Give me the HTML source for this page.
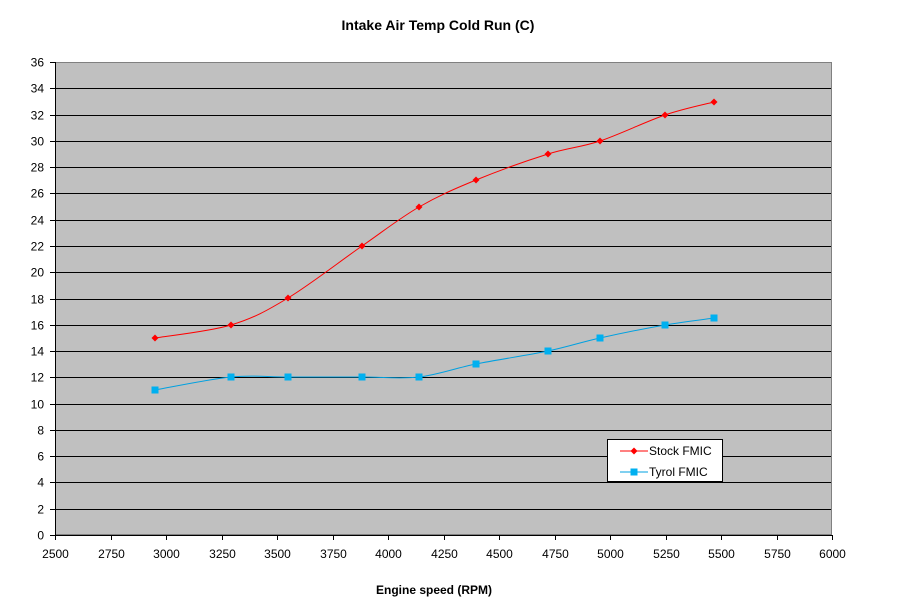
<!DOCTYPE html>
<html><head><meta charset="utf-8"><style>
body{margin:0;background:#fff;}
svg{display:block;font-family:"Liberation Sans",Arial,sans-serif;}
</style></head><body>
<svg id="s" width="903" height="614" xmlns="http://www.w3.org/2000/svg">
<rect x="55" y="62" width="777" height="473" fill="#c0c0c0"/>
<g id="grid" stroke="#000" stroke-width="1"></g>
<rect x="55.5" y="62.5" width="776" height="472" fill="none" stroke="#808080"/>
<line x1="55.5" y1="62" x2="55.5" y2="535" stroke="#000"/>
<line x1="55" y1="535.5" x2="832" y2="535.5" stroke="#000"/>
<g id="lab" font-size="12" fill="#000"></g>
<text x="438" y="30" font-size="14" font-weight="bold" text-anchor="middle">Intake Air  Temp Cold Run (C)</text>
<text x="434" y="594" font-size="12" font-weight="bold" text-anchor="middle">Engine speed  (RPM)</text>
<path id="p1" fill="none" stroke="#ff0000" stroke-width="1"/>
<path id="p2" fill="none" stroke="#00a0e0" stroke-width="1"/>
<g id="m"></g>
<rect x="607.5" y="439.5" width="115" height="42" fill="#fff" stroke="#000"/>
<line x1="620" y1="451" x2="648" y2="451" stroke="#ff0000"/>
<path d="M634 447.5L637.5 451L634 454.5L630.5 451Z" fill="#ff0000"/>
<text x="649" y="455" font-size="12">Stock FMIC</text>
<line x1="620" y1="472" x2="648" y2="472" stroke="#00a0e0"/>
<rect x="630.5" y="468.5" width="7" height="7" fill="#00b0f0"/>
<text x="649" y="476" font-size="12">Tyrol FMIC</text>
</svg>
<script>
var g=document.getElementById('grid'),l=document.getElementById('lab'),ns='http://www.w3.org/2000/svg';
function el(t,a,p){var e=document.createElementNS(ns,t);for(var k in a)e.setAttribute(k,a[k]);p.appendChild(e);return e;}
for(var v=0;v<=36;v+=2){var y=535-v*473/36;y=Math.round(y)+0.5;
 if(v>0&&v<36)el('line',{x1:55,y1:y,x2:832,y2:y},g);
 el('line',{x1:50,y1:y,x2:55,y2:y},g);
 var t=el('text',{x:44,y:y+4,'text-anchor':'end'},l);t.textContent=v;}
for(var r=2500;r<=6000;r+=250){var x=Math.round(55+(r-2500)*777/3500)+0.5;
 el('line',{x1:x,y1:535,x2:x,y2:540},g);
 var t=el('text',{x:x,y:558,'text-anchor':'middle'},l);t.textContent=r;}
var s1=[[155,338],[231,325],[288,298],[362,246],[419,207],[476,180],[548,154],[600,141],[665,115],[714,102]];
var s2=[[155,390],[231,377],[288,377],[362,377],[419,377],[476,364],[548,351],[600,338],[665,325],[714,318]];
function cr(p){var d='M'+p[0][0]+' '+p[0][1];for(var i=0;i<p.length-1;i++){var a=p[i-1]||p[i],b=p[i],c=p[i+1],e=p[i+2]||c;
 d+=' C'+(b[0]+(c[0]-a[0])/6)+' '+(b[1]+(c[1]-a[1])/6)+' '+(c[0]-(e[0]-b[0])/6)+' '+(c[1]-(e[1]-b[1])/6)+' '+c[0]+' '+c[1];}return d;}
document.getElementById('p1').setAttribute('d',cr(s1));
document.getElementById('p2').setAttribute('d',cr(s2));
var m=document.getElementById('m');
s1.forEach(function(p){el('path',{d:'M'+p[0]+' '+(p[1]-3.5)+'L'+(p[0]+3.5)+' '+p[1]+'L'+p[0]+' '+(p[1]+3.5)+'L'+(p[0]-3.5)+' '+p[1]+'Z',fill:'#ff0000'},m);});
s2.forEach(function(p){el('rect',{x:p[0]-3.5,y:p[1]-3.5,width:7,height:7,fill:'#00b0f0'},m);});
</script>
</body></html>
